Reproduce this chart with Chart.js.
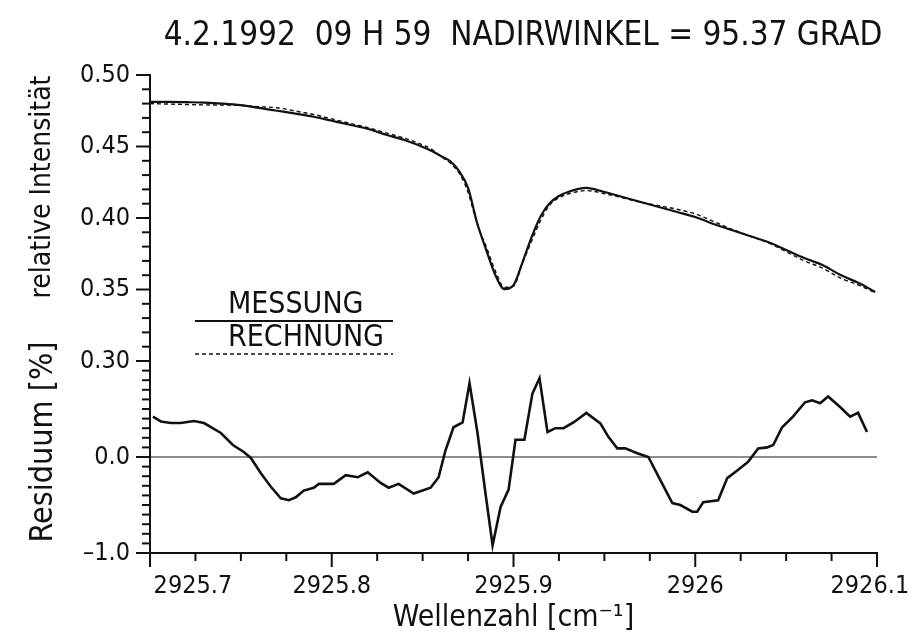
<!DOCTYPE html>
<html>
<head>
<meta charset="utf-8">
<script src="https://cdn.jsdelivr.net/npm/chart.js@4.4.1/dist/chart.umd.min.js"></script>
<style>
  body { margin: 0; background: #fff; }
</style>
</head>
<body>
<canvas id="myChart" width="915" height="640"></canvas>
<script>
// Wavenumbers for the spectrum [cm-1]
var wellenzahl = [2925.70, 2925.71, 2925.72, 2925.73, 2925.74, 2925.75, 2925.76, 2925.77, 2925.78, 2925.79,
  2925.80, 2925.81, 2925.82, 2925.83, 2925.84, 2925.85, 2925.855, 2925.86, 2925.865, 2925.87,
  2925.875, 2925.88, 2925.885, 2925.89, 2925.895, 2925.90, 2925.905, 2925.91, 2925.915, 2925.92,
  2925.925, 2925.93, 2925.94, 2925.95, 2925.96, 2925.97, 2925.98, 2925.99, 2926.00, 2926.01,
  2926.02, 2926.03, 2926.04, 2926.05, 2926.06, 2926.07, 2926.08, 2926.09, 2926.099];
// measured relative intensity (solid)
var messung = [0.4812, 0.4812, 0.4810, 0.4807, 0.4800, 0.4789, 0.4770, 0.4750, 0.4730, 0.4708,
  0.4680, 0.4652, 0.4622, 0.4582, 0.4545, 0.4497, 0.4469, 0.4434, 0.4399, 0.4329,
  0.4210, 0.3965, 0.3776, 0.3601, 0.3503, 0.3530, 0.3692, 0.3867, 0.4014, 0.4105,
  0.4154, 0.4182, 0.4210, 0.4182, 0.4147, 0.4112, 0.4077, 0.4042, 0.4007, 0.3958,
  0.3916, 0.3874, 0.3832, 0.3776, 0.3720, 0.3671, 0.3601, 0.3545, 0.3483];
// calculated relative intensity (dashed)
var rechnung = [0.4800, 0.4797, 0.4794, 0.4791, 0.4790, 0.4787, 0.4778, 0.4771, 0.4748, 0.4724,
  0.4693, 0.4662, 0.4631, 0.4595, 0.4558, 0.4512, 0.4480, 0.4430, 0.4386, 0.4315,
  0.4180, 0.3958, 0.3800, 0.3630, 0.3515, 0.3524, 0.3686, 0.3840, 0.3985, 0.4093,
  0.4142, 0.4168, 0.4192, 0.4170, 0.4142, 0.4110, 0.4086, 0.4061, 0.4029, 0.3976,
  0.3922, 0.3874, 0.3828, 0.3765, 0.3700, 0.3650, 0.3580, 0.3530, 0.3477];

// Residuum [%]
var resWellenzahl = [2925.7016, 2925.7060, 2925.7115, 2925.7170, 2925.7242, 2925.7297, 2925.7390, 2925.7456, 2925.7516, 2925.7555,
  2925.7610, 2925.7665, 2925.7720, 2925.7764, 2925.7802, 2925.7846, 2925.7901, 2925.7929, 2925.8011, 2925.8077,
  2925.8143, 2925.8198, 2925.8269, 2925.8313, 2925.8368, 2925.8451, 2925.8544, 2925.8588, 2925.8626, 2925.8670,
  2925.8720, 2925.8758, 2925.8802, 2925.8846, 2925.8885, 2925.8929, 2925.8973, 2925.9011, 2925.9060, 2925.9104,
  2925.9143, 2925.9187, 2925.9231, 2925.9275, 2925.9330, 2925.9401, 2925.9478, 2925.9522, 2925.9571, 2925.9615,
  2925.9681, 2925.9742, 2925.9808, 2925.9874, 2925.9918, 2925.9984, 2926.0011, 2926.0044, 2926.0126, 2926.0176,
  2926.0231, 2926.0291, 2926.0346, 2926.0396, 2926.0429, 2926.0478, 2926.0538, 2926.0604, 2926.0643, 2926.0687,
  2926.0731, 2926.0797, 2926.0852, 2926.0896, 2926.0945];
var residuum = [0.42, 0.37, 0.354, 0.354, 0.375, 0.354, 0.25, 0.125, 0.052, -0.01,
  -0.17, -0.31, -0.43, -0.45, -0.42, -0.35, -0.32, -0.28, -0.28, -0.19,
  -0.21, -0.16, -0.27, -0.32, -0.28, -0.38, -0.32, -0.21, 0.07, 0.31,
  0.36, 0.77, 0.25, -0.38, -0.92, -0.52, -0.34, 0.18, 0.18, 0.66,
  0.82, 0.26, 0.30, 0.30, 0.36, 0.46, 0.35, 0.21, 0.09, 0.09,
  0.04, 0.0, -0.24, -0.48, -0.50, -0.57, -0.57, -0.47, -0.45, -0.22,
  -0.14, -0.05, 0.09, 0.10, 0.125, 0.31, 0.42, 0.57, 0.59, 0.56,
  0.63, 0.52, 0.42, 0.46, 0.26];

var titel = "4.2.1992  09 H 59  NADIRWINKEL = 95.37 GRAD";
var FONT = '"Liberation Sans Narrow", "DejaVu Sans Condensed", "Liberation Sans", sans-serif';
var INK = "#111";

function pts(xs, ys) {
  return xs.map(function (x, i) { return { x: x, y: ys[i] }; });
}
function near(v, step) {
  return Math.abs(v / step - Math.round(v / step)) < 1e-6;
}
function makeTicks(min, max, step) {
  return function (scale) {
    var t = [];
    var n = Math.round((max - min) / step);
    for (var i = 0; i <= n; i++) t.push({ value: +(min + i * step).toFixed(4) });
    scale.ticks = t;
  };
}

// outward tick marks, long ones at the labelled values, plus title and legend
var decor = {
  id: 'decor',
  afterDraw: function (chart) {
    var c = chart.ctx, a = chart.chartArea;
    c.save();
    c.strokeStyle = INK;
    c.lineWidth = 2;
    [['yInt', 0.05], ['yRes', 1]].forEach(function (d) {
      var s = chart.scales[d[0]];
      s.ticks.forEach(function (t) {
        var p = s.getPixelForValue(t.value);
        var len = near(t.value, d[1]) ? 14 : 8;
        c.beginPath(); c.moveTo(s.right - len, p); c.lineTo(s.right, p); c.stroke();
      });
    });
    var sx = chart.scales.x;
    sx.ticks.forEach(function (t) {
      var p = sx.getPixelForValue(t.value);
      var len = near(t.value, 0.1) ? 14 : 8;
      c.beginPath(); c.moveTo(p, sx.top); c.lineTo(p, sx.top + len); c.stroke();
    });

    c.fillStyle = INK;
    c.textAlign = 'center';
    c.textBaseline = 'alphabetic';
    c.font = '33px ' + FONT;
    c.fillText(titel, 523, 45);

    // rotated axis captions
    c.save();
    c.translate(50, 187); c.rotate(-Math.PI / 2);
    c.font = '28px ' + FONT;
    c.fillText('relative Intensität', 0, 0);
    c.restore();
    c.save();
    c.translate(52, 442); c.rotate(-Math.PI / 2);
    c.font = '32px ' + FONT;
    c.fillText('Residuum [%]', 0, 0);
    c.restore();

    // legend
    c.textAlign = 'left';
    c.font = '30px ' + FONT;
    c.fillText('MESSUNG', a.left + 78, 313);
    c.fillText('RECHNUNG', a.left + 78, 346);
    c.lineWidth = 2;
    c.beginPath(); c.moveTo(a.left + 45, 321); c.lineTo(a.left + 243, 321); c.stroke();
    c.lineWidth = 1.5;
    c.setLineDash([4, 3]);
    c.beginPath(); c.moveTo(a.left + 45, 354); c.lineTo(a.left + 243, 354); c.stroke();
    c.restore();
  }
};

var ctx = document.getElementById("myChart");
var myChart = new Chart(ctx, {
  type: 'line',
  data: {
    datasets: [
      {
        label: "MESSUNG",
        data: pts(wellenzahl, messung),
        yAxisID: 'yInt',
        borderColor: INK,
        borderWidth: 2.2,
        pointRadius: 0,
        cubicInterpolationMode: 'monotone',
        fill: false
      },
      {
        label: "RECHNUNG",
        data: pts(wellenzahl, rechnung),
        yAxisID: 'yInt',
        borderColor: INK,
        borderWidth: 1.4,
        borderDash: [4, 3],
        pointRadius: 0,
        cubicInterpolationMode: 'monotone',
        fill: false
      },
      {
        label: "Residuum",
        data: pts(resWellenzahl, residuum),
        yAxisID: 'yRes',
        borderColor: INK,
        borderWidth: 2.6,
        pointRadius: 0,
        tension: 0,
        fill: false
      }
    ]
  },
  options: {
    responsive: false,
    animation: false,
    layout: { padding: { top: 75, right: 38, left: 0, bottom: 0 } },
    plugins: { legend: { display: false }, tooltip: { enabled: false } },
    scales: {
      x: {
        type: 'linear',
        min: 2925.7,
        max: 2926.1,
        afterBuildTicks: makeTicks(2925.7, 2926.1, 0.025),
        afterFit: function (s) { s.height = 87; s.paddingLeft = 0; s.paddingRight = 0; },
        grid: { display: false, drawTicks: false },
        border: { color: INK, width: 2 },
        ticks: {
          autoSkip: false,
          maxRotation: 0,
          padding: 18,
          color: INK,
          font: { family: FONT, size: 25 },
          callback: function (v, i, all) {
            if (!near(v, 0.1)) return '';
            var s = String(Math.round(v * 10) / 10);
            // first label sits to the right of the axis corner, last one a bit inside
            if (i === 0) return '\u2007\u2007\u2007\u2007\u2007\u2007' + s;
            if (i === all.length - 1) return s + '\u2007';
            return s;
          }
        },
        title: {
          display: true,
          text: 'Wellenzahl [cm⁻¹]',
          color: INK,
          font: { family: FONT, size: 30 },
          padding: { top: 0 }
        }
      },
      // residuum panel first: it is stacked at the bottom
      yRes: {
        type: 'linear',
        position: 'left',
        stack: 'v',
        stackWeight: 192,
        min: -1,
        max: 1,
        afterBuildTicks: makeTicks(-1, 1, 0.1),
        afterFit: function (s) { s.width = 150; },
        grid: {
          drawTicks: false,
          lineWidth: 2,
          color: function (c) { return c.tick && Math.abs(c.tick.value) < 1e-9 ? '#8c8c8c' : 'rgba(0,0,0,0)'; }
        },
        border: { color: INK, width: 2 },
        ticks: {
          autoSkip: false,
          padding: 20,
          color: INK,
          font: { family: FONT, size: 25 },
          callback: function (v) {
            if (Math.abs(v) < 1e-9) return '0.0';
            if (Math.abs(v + 1) < 1e-9) return '\u20131.0';
            return '';
          }
        }
      },
      yInt: {
        type: 'linear',
        position: 'left',
        stack: 'v',
        stackWeight: 286,
        min: 0.30,
        max: 0.50,
        afterBuildTicks: makeTicks(0.30, 0.50, 0.01),
        afterFit: function (s) { s.width = 150; },
        grid: { display: false, drawTicks: false },
        border: { color: INK, width: 2 },
        ticks: {
          autoSkip: false,
          padding: 20,
          color: INK,
          font: { family: FONT, size: 25 },
          callback: function (v) { return near(v, 0.05) ? v.toFixed(2) : ''; }
        }
      }
    }
  },
  plugins: [decor]
});
</script>
</body>
</html>
